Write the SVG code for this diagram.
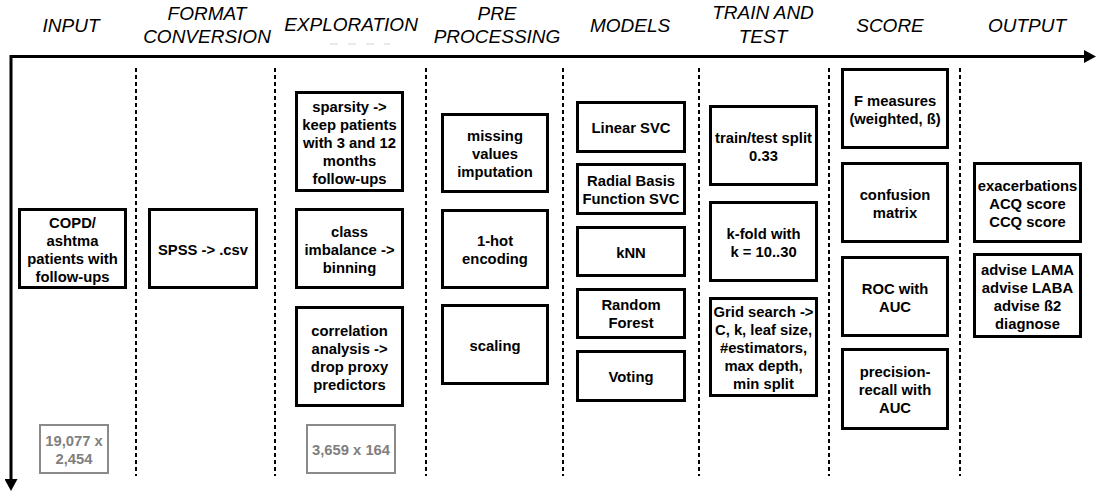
<svg xmlns="http://www.w3.org/2000/svg" width="1100" height="494" viewBox="0 0 1100 494">
<style>
.hdr{font-family:"Liberation Sans",Arial,sans-serif;font-style:italic;font-size:19px;text-anchor:middle;fill:#000}
.box{fill:#fff;stroke:#000;stroke-width:3}
.t{font-family:"Liberation Sans",Arial,sans-serif;font-weight:bold;font-size:14.8px;text-anchor:middle;fill:#000}
.gbox{fill:#fff;stroke:#8a8a8a;stroke-width:2}
.gt{font-family:"Liberation Sans",Arial,sans-serif;font-weight:bold;font-size:14.8px;text-anchor:middle;fill:#7f7f7f}
.sep{stroke:#000;stroke-width:2;stroke-dasharray:4 3;fill:none}
.axis{stroke:#000;stroke-width:3;fill:none}
</style>
<defs>
<marker id="ah" markerUnits="userSpaceOnUse" viewBox="0 0 12 13" refX="0" refY="6.5" markerWidth="12" markerHeight="13" orient="auto-start-reverse">
<path d="M0,0 L12,6.5 L0,13 Z" fill="#000"/>
</marker>
</defs>
<rect width="1100" height="494" fill="#fff"/>

<g id="headers">
<text class="hdr" x="71" y="32">INPUT</text>
<text class="hdr" x="207" y="20">FORMAT</text>
<text class="hdr" x="207" y="43">CONVERSION</text>
<text class="hdr" x="351" y="31">EXPLORATION</text>
<text class="hdr" x="497" y="20">PRE</text>
<text class="hdr" x="497" y="43">PROCESSING</text>
<text class="hdr" x="630" y="32">MODELS</text>
<text class="hdr" x="763" y="19">TRAIN AND</text>
<text class="hdr" x="763" y="43">TEST</text>
<text class="hdr" x="890" y="32">SCORE</text>
<text class="hdr" x="1027" y="32">OUTPUT</text>
<line x1="330" y1="44" x2="390" y2="44" stroke="#e4e4e4" stroke-width="1.5" stroke-dasharray="8 10"/>
</g>

<g id="connectors">
<path class="axis" d="M11,479 V56.5 H1084" marker-start="url(#ah)" marker-end="url(#ah)"/>
<line class="sep" x1="136" y1="68" x2="136" y2="476"/>
<line class="sep" x1="275" y1="68" x2="275" y2="476"/>
<line class="sep" x1="426" y1="68" x2="426" y2="476"/>
<line class="sep" x1="563" y1="68" x2="563" y2="476"/>
<line class="sep" x1="699" y1="68" x2="699" y2="476"/>
<line class="sep" x1="829" y1="68" x2="829" y2="476"/>
<line class="sep" x1="960" y1="68" x2="960" y2="476"/>
</g>

<g id="input">
<rect class="box" x="19.5" y="209.5" width="106" height="78"/>
<text class="t" x="72.5" y="227.5">COPD/</text>
<text class="t" x="72.5" y="245.5">ashtma</text>
<text class="t" x="72.5" y="263.5">patients with</text>
<text class="t" x="72.5" y="281.5">follow-ups</text>
</g>
<g id="input-size">
<rect class="gbox" x="40" y="425" width="68" height="48"/>
<text class="gt" x="74" y="446">19,077 x</text>
<text class="gt" x="74" y="464">2,454</text>
</g>

<g id="format">
<rect class="box" x="149.5" y="209.5" width="107" height="78"/>
<text class="t" x="203" y="254.5">SPSS -&gt; .csv</text>
</g>

<g id="sparsity">
<rect class="box" x="296.5" y="92.5" width="106" height="98"/>
<text class="t" x="349.5" y="111.5">sparsity -&gt;</text>
<text class="t" x="349.5" y="129.5">keep patients</text>
<text class="t" x="349.5" y="147.5">with 3 and 12</text>
<text class="t" x="349.5" y="165.5">months</text>
<text class="t" x="349.5" y="183.5">follow-ups</text>
</g>
<g id="imbalance">
<rect class="box" x="296.5" y="209.5" width="106" height="78"/>
<text class="t" x="349.5" y="236.5">class</text>
<text class="t" x="349.5" y="254.5">imbalance -&gt;</text>
<text class="t" x="349.5" y="272.5">binning</text>
</g>
<g id="correlation">
<rect class="box" x="296.5" y="307.5" width="106" height="98"/>
<text class="t" x="349.5" y="335.5">correlation</text>
<text class="t" x="349.5" y="353.5">analysis -&gt;</text>
<text class="t" x="349.5" y="371.5">drop proxy</text>
<text class="t" x="349.5" y="389.5">predictors</text>
</g>
<g id="explore-size">
<rect class="gbox" x="307" y="425" width="88" height="48"/>
<text class="gt" x="351" y="455">3,659 x 164</text>
</g>

<g id="missing">
<rect class="box" x="442.5" y="114.5" width="105" height="77"/>
<text class="t" x="495" y="141">missing</text>
<text class="t" x="495" y="159">values</text>
<text class="t" x="495" y="177">imputation</text>
</g>
<g id="onehot">
<rect class="box" x="442.5" y="210.5" width="105" height="77"/>
<text class="t" x="495" y="246">1-hot</text>
<text class="t" x="495" y="264">encoding</text>
</g>
<g id="scaling">
<rect class="box" x="442.5" y="305.5" width="105" height="78"/>
<text class="t" x="495" y="350.5">scaling</text>
</g>

<g id="linsvc">
<rect class="box" x="577.5" y="102.5" width="107" height="49"/>
<text class="t" x="631" y="133">Linear SVC</text>
</g>
<g id="rbfsvc">
<rect class="box" x="577.5" y="164.5" width="107" height="49"/>
<text class="t" x="631" y="186">Radial Basis</text>
<text class="t" x="631" y="204">Function SVC</text>
</g>
<g id="knn">
<rect class="box" x="577.5" y="227.5" width="107" height="48"/>
<text class="t" x="631" y="258">kNN</text>
</g>
<g id="rf">
<rect class="box" x="577.5" y="289.5" width="107" height="48"/>
<text class="t" x="631" y="310">Random</text>
<text class="t" x="631" y="328">Forest</text>
</g>
<g id="voting">
<rect class="box" x="577.5" y="351.5" width="107" height="49"/>
<text class="t" x="631" y="382">Voting</text>
</g>

<g id="split">
<rect class="box" x="710.5" y="106.5" width="106" height="78"/>
<text class="t" x="763.5" y="142.5">train/test split</text>
<text class="t" x="763.5" y="160.5">0.33</text>
</g>
<g id="kfold">
<rect class="box" x="710.5" y="202.5" width="106" height="78"/>
<text class="t" x="763.5" y="238.5">k-fold with</text>
<text class="t" x="763.5" y="256.5">k = 10..30</text>
</g>
<g id="grid">
<rect class="box" x="710.5" y="298.5" width="106" height="97"/>
<text class="t" x="763.5" y="317">Grid search -&gt;</text>
<text class="t" x="763.5" y="335">C, k, leaf size,</text>
<text class="t" x="763.5" y="353">#estimators,</text>
<text class="t" x="763.5" y="371">max depth,</text>
<text class="t" x="763.5" y="389">min split</text>
</g>

<g id="fmeasure">
<rect class="box" x="842.5" y="69.5" width="105" height="78"/>
<text class="t" x="895" y="105.5">F measures</text>
<text class="t" x="895" y="123.5">(weighted, ß)</text>
</g>
<g id="confusion">
<rect class="box" x="842.5" y="163.5" width="105" height="78"/>
<text class="t" x="895" y="199.5">confusion</text>
<text class="t" x="895" y="217.5">matrix</text>
</g>
<g id="roc">
<rect class="box" x="842.5" y="257.5" width="105" height="78"/>
<text class="t" x="895" y="293.5">ROC with</text>
<text class="t" x="895" y="311.5">AUC</text>
</g>
<g id="pr">
<rect class="box" x="842.5" y="349.5" width="105" height="79"/>
<text class="t" x="895" y="377">precision-</text>
<text class="t" x="895" y="395">recall with</text>
<text class="t" x="895" y="413">AUC</text>
</g>

<g id="outcomes">
<rect class="box" x="974.5" y="163.5" width="106" height="78"/>
<text class="t" x="1027.5" y="190.5">exacerbations</text>
<text class="t" x="1027.5" y="208.5">ACQ score</text>
<text class="t" x="1027.5" y="226.5">CCQ score</text>
</g>
<g id="advice">
<rect class="box" x="974.5" y="254.5" width="106" height="82"/>
<text class="t" x="1027.5" y="274.5">advise LAMA</text>
<text class="t" x="1027.5" y="292.5">advise LABA</text>
<text class="t" x="1027.5" y="310.5">advise ß2</text>
<text class="t" x="1027.5" y="328.5">diagnose</text>
</g>
</svg>
